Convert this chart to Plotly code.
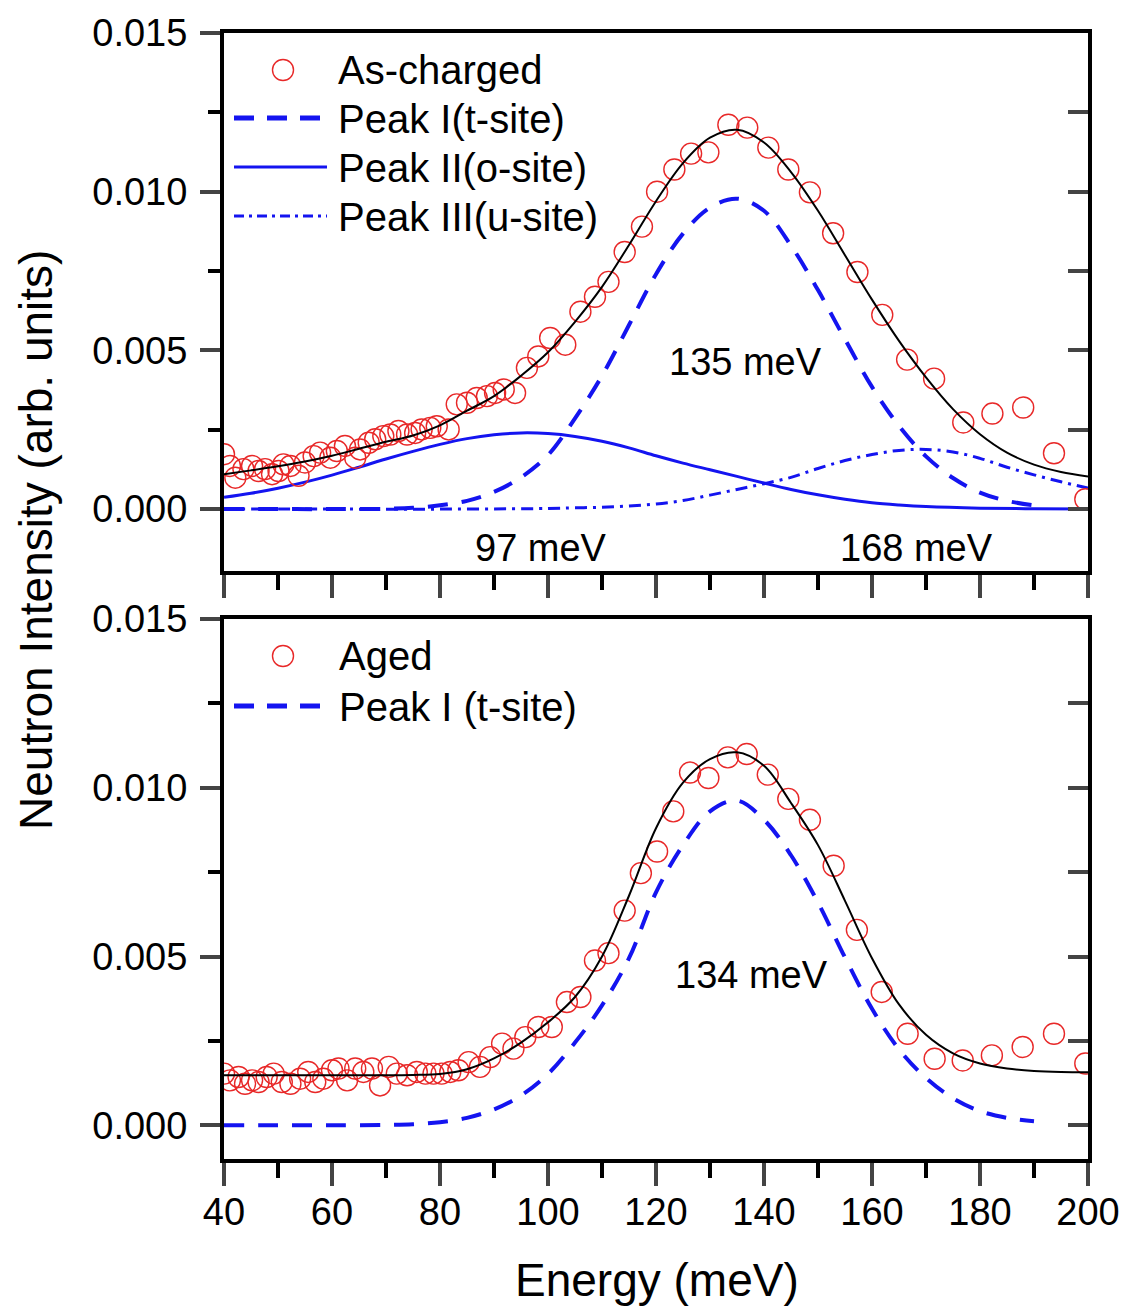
import plotly.graph_objects as go

# ---- As-charged (top panel) ----
e_top = [40.0, 41.1, 42.1, 43.6, 45.2, 46.4, 47.6, 48.9, 50.1, 51.0, 52.3, 53.8, 55.0, 56.6,
         57.8, 59.7, 60.9, 62.4, 64.3, 65.2, 66.8, 68.0, 69.5, 70.8, 72.3, 73.9, 75.4, 76.6,
         78.2, 79.4, 81.6, 83.1, 85.0, 86.8, 88.7, 90.2, 91.8, 93.9, 96.1, 98.2, 100.4, 103.2,
         106.0, 108.7, 111.2, 114.2, 117.4, 120.2, 123.4, 126.5, 129.7, 133.4, 136.9, 140.8,
         144.5, 148.5, 152.8, 157.3, 161.9, 166.5, 171.5, 176.9, 182.3, 188.0, 193.7, 199.5]
i_top = [0.00173, 0.00136, 0.00099, 0.00126, 0.00136, 0.00120, 0.00126, 0.00110, 0.00120,
         0.00141, 0.00136, 0.00105, 0.00147, 0.00167, 0.00178, 0.00162, 0.00183, 0.00199,
         0.00162, 0.00188, 0.00209, 0.00220, 0.00230, 0.00235, 0.00246, 0.00235, 0.00240,
         0.00251, 0.00256, 0.00261, 0.00251, 0.00330, 0.00335, 0.00350, 0.00356, 0.00366,
         0.00377, 0.00366, 0.00445, 0.00481, 0.00539, 0.00518, 0.00622, 0.00669, 0.00716,
         0.00810, 0.00890, 0.01000, 0.01070, 0.01120, 0.01124, 0.01211, 0.01202, 0.01139,
         0.01070, 0.00998, 0.00869, 0.00747, 0.00612, 0.00471, 0.00411, 0.00273, 0.00301,
         0.00320, 0.00176, 0.00031]

fit_e_top = [40, 45, 50, 55, 60, 65, 70, 75, 80, 85, 90, 95, 100, 105, 110, 115, 120, 125,
             130, 135, 140, 145, 150, 155, 160, 165, 170, 175, 180, 185, 190, 195, 200]
fit_top = [0.00110, 0.00122, 0.00135, 0.00150, 0.00168, 0.00190, 0.00212, 0.00232, 0.00264,
           0.00310, 0.00356, 0.00420, 0.00494, 0.00590, 0.00700, 0.00832, 0.00970, 0.01090,
           0.01170, 0.01195, 0.01155, 0.01062, 0.00940, 0.00800, 0.00660, 0.00530, 0.00415,
           0.00315, 0.00236, 0.00178, 0.00140, 0.00117, 0.00103]

p1_e_top = [40, 50, 60, 70, 75, 80, 85, 90, 95, 100, 105, 110, 115, 120, 125, 130, 135, 140,
            145, 150, 155, 160, 165, 170, 175, 180, 185, 190]
p1_top = [0.0, 0.0, 0.0, 0.00001, 0.00004, 0.00012, 0.00026, 0.00054, 0.00100, 0.00170,
          0.00286, 0.00420, 0.00580, 0.00740, 0.00868, 0.00950, 0.00978, 0.00940, 0.00830,
          0.00690, 0.00535, 0.00385, 0.00262, 0.00166, 0.00098, 0.00052, 0.00026, 0.00012]

p2_e_top = [40, 45, 50, 55, 60, 65, 70, 75, 80, 85, 90, 95, 100, 105, 110, 115, 120, 125,
            130, 135, 140, 145, 150, 155, 160, 165, 170, 180, 190, 200]
p2_top = [0.00037, 0.00050, 0.00066, 0.00085, 0.00107, 0.00132, 0.00158, 0.00182, 0.00204,
          0.00222, 0.00234, 0.00240, 0.00238, 0.00229, 0.00214, 0.00193, 0.00168, 0.00145,
          0.00124, 0.00103, 0.00082, 0.00062, 0.00045, 0.00031, 0.00020, 0.00013, 0.00008,
          0.00003, 0.00001, 0.0]

p3_e_top = [40, 60, 80, 100, 105, 110, 115, 120, 125, 130, 135, 140, 145, 150, 155, 160, 165,
            170, 175, 180, 185, 190, 195, 200]
p3_top = [0.0, 0.0, 0.0, 0.00002, 0.00004, 0.00006, 0.00010, 0.00016, 0.00027, 0.00044,
          0.00062, 0.00080, 0.00100, 0.00128, 0.00153, 0.00172, 0.00185, 0.00188, 0.00180,
          0.00160, 0.00132, 0.00108, 0.00086, 0.00066]

# ---- Aged (bottom panel) ----
e_bot = [40.0, 41.1, 42.7, 43.9, 45.2, 46.4, 47.9, 49.2, 50.7, 52.3, 54.1, 55.6, 56.9, 58.4,
         60.0, 61.2, 62.8, 64.3, 65.8, 67.4, 68.9, 70.5, 72.0, 73.9, 75.7, 77.3, 78.8, 80.3,
         81.9, 83.4, 85.3, 87.4, 89.3, 91.5, 93.6, 95.8, 98.2, 100.7, 103.5, 106.0, 108.7,
         111.2, 114.2, 117.2, 120.2, 123.2, 126.3, 129.7, 133.3, 136.8, 140.7, 144.5, 148.5,
         152.9, 157.2, 161.8, 166.6, 171.6, 176.8, 182.2, 187.9, 193.7, 199.5]
i_bot = [0.00153, 0.00133, 0.00143, 0.00123, 0.00133, 0.00128, 0.00143, 0.00153, 0.00128,
         0.00123, 0.00138, 0.00158, 0.00128, 0.00138, 0.00163, 0.00168, 0.00133, 0.00168,
         0.00158, 0.00168, 0.00118, 0.00173, 0.00153, 0.00148, 0.00158, 0.00153, 0.00153,
         0.00153, 0.00158, 0.00163, 0.00187, 0.00173, 0.00202, 0.00242, 0.00227, 0.00261,
         0.00291, 0.00291, 0.00365, 0.00380, 0.00488, 0.00510, 0.00636, 0.00747, 0.00811,
         0.00930, 0.01045, 0.01029, 0.01090, 0.01100, 0.01039, 0.00967, 0.00905, 0.00769,
         0.00579, 0.00395, 0.00271, 0.00197, 0.00192, 0.00207, 0.00232, 0.00271, 0.00183]

fit_e_bot = [40, 50, 60, 70, 75, 80, 85, 90, 95, 100, 105, 110, 115, 120, 125, 130, 135, 140,
             145, 150, 155, 160, 165, 170, 175, 180, 185, 190, 195, 200]
fit_bot = [0.00148, 0.00148, 0.00148, 0.00148, 0.00149, 0.00152, 0.00166, 0.00198, 0.00245,
           0.00305, 0.00380, 0.00500, 0.00680, 0.00880, 0.01015, 0.01085, 0.01105, 0.01065,
           0.00955, 0.00830, 0.00665, 0.00495, 0.00358, 0.00268, 0.00213, 0.00183, 0.00168,
           0.00161, 0.00158, 0.00157]

p1_e_bot = [40, 50, 60, 70, 75, 80, 85, 90, 95, 100, 105, 110, 115, 120, 125, 130, 135, 140,
            145, 150, 155, 160, 165, 170, 175, 180, 185, 190]
p1_bot = [0.0, 0.0, 0.0, 0.00001, 0.00003, 0.00009, 0.00022, 0.00047, 0.00088, 0.00152,
          0.00245, 0.00355, 0.00495, 0.00690, 0.00830, 0.00930, 0.00962, 0.00905, 0.00800,
          0.00660, 0.00497, 0.00345, 0.00225, 0.00140, 0.00080, 0.00042, 0.00022, 0.00012]

FONT = "Liberation Sans, Arial, sans-serif"
RED = "rgb(232,40,40)"
BLUE = "rgb(20,20,240)"

# the page body adds an 8px margin, so the figure is drawn 8px smaller
OFF = 8
W, H = 1127 - OFF, 1311 - OFF
# plot area in target-image pixels: left 224, right 1088, top 33, bottom 1159
L, R, T, B = 224, 1088, 33, 1159


def px(x):
    return (x - L) / (R - L)


def py(y):
    return (B - y) / (B - T)


fig = go.Figure()

circ = dict(symbol="circle-open", size=21, color=RED, line=dict(width=1.4, color=RED))

# top panel
fig.add_trace(go.Scatter(x=p1_e_top, y=p1_top, mode="lines", line_shape="spline",
                         line=dict(color=BLUE, width=4, dash="20px,14px"), xaxis="x", yaxis="y"))
fig.add_trace(go.Scatter(x=p2_e_top, y=p2_top, mode="lines", line_shape="spline",
                         line=dict(color=BLUE, width=3), xaxis="x", yaxis="y"))
fig.add_trace(go.Scatter(x=p3_e_top, y=p3_top, mode="lines", line_shape="spline",
                         line=dict(color=BLUE, width=3, dash="12px,6px,3px,6px"), xaxis="x", yaxis="y"))
fig.add_trace(go.Scatter(x=e_top, y=i_top, mode="markers", marker=circ, xaxis="x", yaxis="y"))
fig.add_trace(go.Scatter(x=fit_e_top, y=fit_top, mode="lines", line_shape="spline",
                         line=dict(color="black", width=2), xaxis="x", yaxis="y"))
# carrier for right-side inward ticks
fig.add_trace(go.Scatter(x=fit_e_top, y=fit_top, mode="lines", opacity=0, hoverinfo="skip",
                         xaxis="x", yaxis="y3"))

# bottom panel
fig.add_trace(go.Scatter(x=p1_e_bot, y=p1_bot, mode="lines", line_shape="spline",
                         line=dict(color=BLUE, width=4, dash="20px,14px"), xaxis="x2", yaxis="y2"))
fig.add_trace(go.Scatter(x=e_bot, y=i_bot, mode="markers", marker=circ, xaxis="x2", yaxis="y2"))
fig.add_trace(go.Scatter(x=fit_e_bot, y=fit_bot, mode="lines", line_shape="spline",
                         line=dict(color="black", width=2), xaxis="x2", yaxis="y2"))
fig.add_trace(go.Scatter(x=fit_e_bot, y=fit_bot, mode="lines", opacity=0, hoverinfo="skip",
                         xaxis="x2", yaxis="y4"))

tickfont = dict(family=FONT, size=38, color="black")
xcommon = dict(range=[40, 200], dtick=20, tick0=40, ticks="outside", ticklen=23, tickwidth=4,
               showline=True, linewidth=4, linecolor="black", mirror=True, showgrid=False,
               zeroline=False, tickfont=tickfont, ticklabelstandoff=-7, automargin=False,
               minor=dict(dtick=10, ticks="outside", ticklen=15, tickwidth=4, tickcolor="black",
                          showgrid=False))
ycommon = dict(dtick=0.005, tick0=0, ticks="outside", ticklen=20, tickwidth=4,
               showline=True, linewidth=4, linecolor="black", mirror=True, showgrid=False,
               zeroline=False, tickformat=".3f", tickfont=tickfont, ticklabelstandoff=5,
               automargin=False,
               minor=dict(dtick=0.0025, ticks="outside", ticklen=12, tickwidth=4,
                          tickcolor="black", showgrid=False))
yright = dict(side="right", dtick=0.0025, tick0=0, ticks="inside", ticklen=20, automargin=False,
              tickwidth=4, showticklabels=False, showline=False, showgrid=False, zeroline=False)

top_dom = [py(571), 1]
bot_dom = [0, py(619)]
top_rng = [-0.00195, 0.015]
bot_rng = [-0.001, 0.015]

fig.update_layout(
    width=W, height=H,
    margin=dict(l=L - OFF, r=W - (R - OFF), t=T - OFF, b=H - (B - OFF), pad=0, autoexpand=False),
    paper_bgcolor="white", plot_bgcolor="white",
    showlegend=False,
    font=dict(family=FONT, color="black"),
    xaxis=dict(xcommon, anchor="y", showticklabels=False),
    yaxis=dict(ycommon, domain=top_dom, range=top_rng, anchor="x"),
    yaxis3=dict(yright, overlaying="y", anchor="x", range=top_rng),
    xaxis2=dict(xcommon, anchor="y2"),
    yaxis2=dict(ycommon, domain=bot_dom, range=bot_rng, anchor="x2"),
    yaxis4=dict(yright, overlaying="y2", anchor="x2", range=bot_rng),
)

# ---- manual legends ----
legfont = dict(family=FONT, size=40, color="black")
shapes = []
annos = []


def leg_circle(cx, cy):
    r = 10.5
    shapes.append(dict(type="circle", xref="paper", yref="paper",
                       x0=px(cx - r), x1=px(cx + r), y0=py(cy + r), y1=py(cy - r),
                       line=dict(color=RED, width=1.4)))


def leg_line(cy, width, dash):
    shapes.append(dict(type="line", xref="paper", yref="paper",
                       x0=px(234), x1=px(327), y0=py(cy), y1=py(cy),
                       line=dict(color=BLUE, width=width, dash=dash)))


def leg_text(x, cy, text):
    annos.append(dict(xref="paper", yref="paper", x=px(x), y=py(cy), text=text,
                      showarrow=False, xanchor="left", yanchor="middle", font=legfont))


leg_circle(283, 70)
leg_text(336, 70, "As-charged")
leg_line(118, 5, "20px,13px")
leg_text(336, 119, "Peak I(t-site)")
leg_line(167, 3, "solid")
leg_text(336, 168, "Peak II(o-site)")
leg_line(216, 3, "10px,5px,3px,5px")
leg_text(336, 217, "Peak III(u-site)")

leg_circle(283, 656)
leg_text(337, 656, "Aged")
leg_line(706, 5, "20px,13px")
leg_text(337, 707, "Peak I (t-site)")

# peak labels
annfont = dict(family=FONT, size=38, color="black")
for xr, yr, xv, yv, txt in [("x", "y", 136.5, 0.00463, "135 meV"),
                            ("x", "y", 98.7, -0.00122, "97 meV"),
                            ("x", "y", 168.3, -0.00122, "168 meV"),
                            ("x2", "y2", 137.6, 0.00445, "134 meV")]:
    annos.append(dict(xref=xr, yref=yr, x=xv, y=yv, text=txt, showarrow=False,
                      xanchor="center", yanchor="middle", font=annfont))

# axis titles
titlefont = dict(family=FONT, size=46, color="black")
annos.append(dict(xref="paper", yref="paper", x=px(36), y=py(540),
                  text="Neutron Intensity (arb. units)", textangle=-90, showarrow=False,
                  xanchor="center", yanchor="middle", font=titlefont))
annos.append(dict(xref="paper", yref="paper", x=px(657), y=py(1280), text="Energy (meV)",
                  showarrow=False, xanchor="center", yanchor="middle", font=titlefont))

fig.update_layout(shapes=shapes, annotations=annos)

fig.write_html("out.html")
